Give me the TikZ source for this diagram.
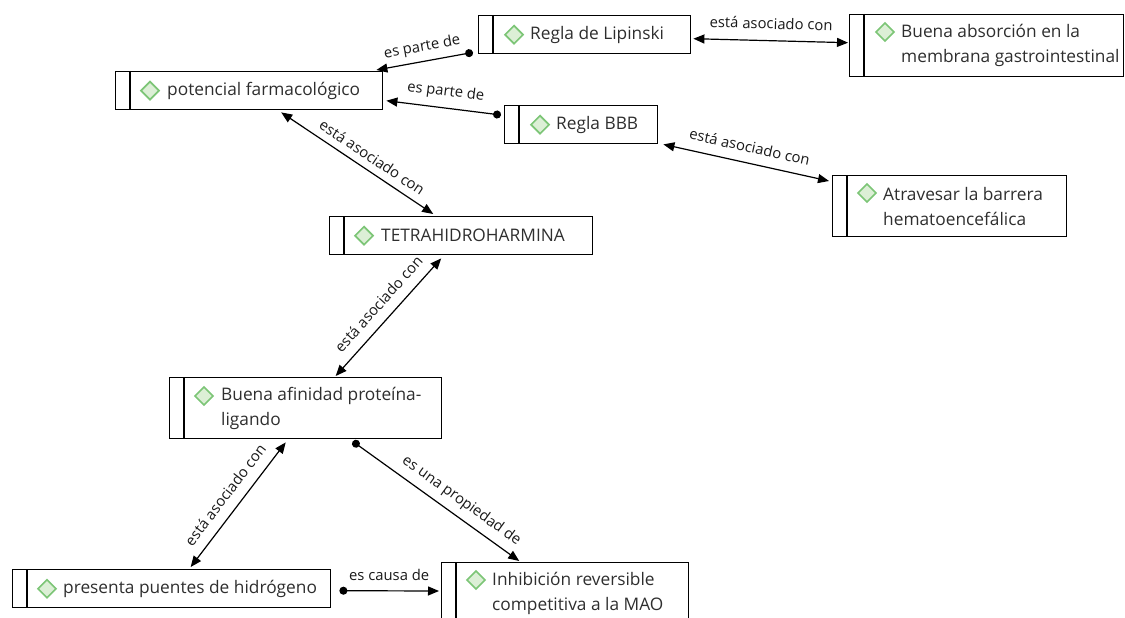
\documentclass[tikz,border=0pt]{standalone}
\usepackage{fontspec}
\setmainfont{Open Sans}
\usetikzlibrary{arrows.meta,calc}
\definecolor{ink}{HTML}{2E2E2E}
\definecolor{gemline}{HTML}{7CC576}
\definecolor{gemfill}{HTML}{DCEFD6}
\begin{document}
\begin{tikzpicture}[x=1pt,y=-1pt,
  concept/.style 2 args={draw=black, line width=1.4pt, minimum width=#1,
    minimum height=#2, inner sep=0pt, anchor=north west},
  stripe/.style={draw=black, line width=1.4pt},
  txt/.style={text=ink, anchor=west, align=left, inner sep=0pt,
    font=\fontsize{17.3}{25}\selectfont},
  lbl/.style={text=black!90, inner sep=1pt, font=\fontsize{14.8}{16}\selectfont},
  link/.style={draw=black, line width=1.2pt},
  both/.style={link, {Triangle[length=11pt,width=9pt]}-{Triangle[length=11pt,width=9pt]}},
  dotarrow/.style={link, {Circle[length=8pt]}-{Triangle[length=11pt,width=9pt]}},
  gem/.pic={\draw[draw=gemline, fill=gemfill, line width=1.7pt]
    (-9,0) -- (0,-9) -- (9,0) -- (0,9) -- cycle;}
]
\useasboundingbox (0,0) rectangle (1125,618);

% concept boxes
\node[concept={212}{38}] (lip) at (478,15) {};
\node[concept={274}{62}] (abs) at (849,14) {};
\node[concept={267}{38}] (pot) at (115,71) {};
\node[concept={153}{38}] (bbb) at (504,105) {};
\node[concept={234}{61}] (atr) at (832,175) {};
\node[concept={263}{38}] (tet) at (329,216) {};
\node[concept={272}{61}] (afi) at (169,377) {};
\node[concept={318}{38}] (pre) at (12,569) {};
\node[concept={247}{62}] (inh) at (441,562) {};

% left stripes of the boxes
\foreach \b in {lip,abs,pot,bbb,atr,tet,afi,pre,inh}
  \draw[stripe] ($(\b.north west)+(15,0)$) -- ($(\b.south west)+(15,0)$);

% icons
\pic at ($(lip.west)+(36,0)$) {gem};
\pic at ($(abs.north west)+(36,18)$) {gem};
\pic at ($(pot.west)+(35,0)$) {gem};
\pic at ($(bbb.west)+(36,0)$) {gem};
\pic at ($(atr.north west)+(35,18)$) {gem};
\pic at ($(tet.west)+(35,0)$) {gem};
\pic at ($(afi.north west)+(35,19)$) {gem};
\pic at ($(pre.west)+(35,0)$) {gem};
\pic at ($(inh.north west)+(35,18)$) {gem};

% texts
\node[txt] (lipT) at ($(lip.west)+(52,0)$) {Regla de Lipinski};
\node[txt] (absT) at ($(abs.west)+(52,0)$) {Buena absorción en la\\membrana gastrointestinal};
\node[txt] (potT) at ($(pot.west)+(52,0)$) {potencial farmacológico};
\node[txt] (bbbT) at ($(bbb.west)+(52,0)$) {Regla BBB};
\node[txt] (atrT) at ($(atr.west)+(51,0)$) {Atravesar la barrera\\hematoencefálica};
\node[txt] (tetT) at ($(tet.west)+(52,0)$) {TETRAHIDROHARMINA};
\node[txt] (afiT) at ($(afi.west)+(52,0)$) {Buena afinidad proteína-\\ligando};
\node[txt] (preT) at ($(pre.west)+(51,0)$) {presenta puentes de hidrógeno};
\node[txt] (inhT) at ($(inh.west)+(51,0)$) {Inhibición reversible\\competitiva a la MAO};

% connectors
\draw[dotarrow] ($(lip.south west)+(-5,-2)$) --
  node[lbl, sloped, above=5pt] (e1) {es parte de} ($(pot.north east)+(-7,-1)$);
\draw[both] ($(lip.east)+(2,4)$) --
  node[lbl, sloped, above=10pt] (e2) {está asociado con} ($(abs.west)+(-1,-3)$);
\draw[dotarrow] ($(bbb.north west)+(-3,10)$) --
  node[lbl, sloped, above=7pt] (e3) {es parte de} ($(pot.east)+(3,10)$);
\draw[both] ($(bbb.south east)+(5,0)$) --
  node[lbl, sloped, above=9pt] (e4) {está asociado con} ($(atr.north west)+(-3,6)$);
\draw[both] ($(pot.south)+(32,2)$) --
  node[lbl, sloped, above=6pt, pos=0.55] (e5) {está asociado con} ($(tet.north)+(-28,-2)$);
\draw[both] ($(tet.south)+(-20,3)$) --
  node[lbl, sloped, above=9pt, pos=0.48] (e6) {está asociado con} ($(afi.north)+(30,-1)$);
\draw[both] ($(afi.south)+(-20,3)$) --
  node[lbl, sloped, above=9pt] (e7) {está asociado con} ($(pre.north)+(19,-2)$);
\draw[dotarrow] ($(afi.south)+(47,2)$) --
  node[lbl, sloped, above=6pt, pos=0.6] (e8) {es una propiedad de} ($(inh.north)+(-46,-1)$);
\draw[dotarrow] ($(pre.east)+(8,2)$) --
  node[lbl, above=9pt] (e9) {es causa de} ($(inh.north west)+(-2,29)$);
\end{tikzpicture}
\end{document}
